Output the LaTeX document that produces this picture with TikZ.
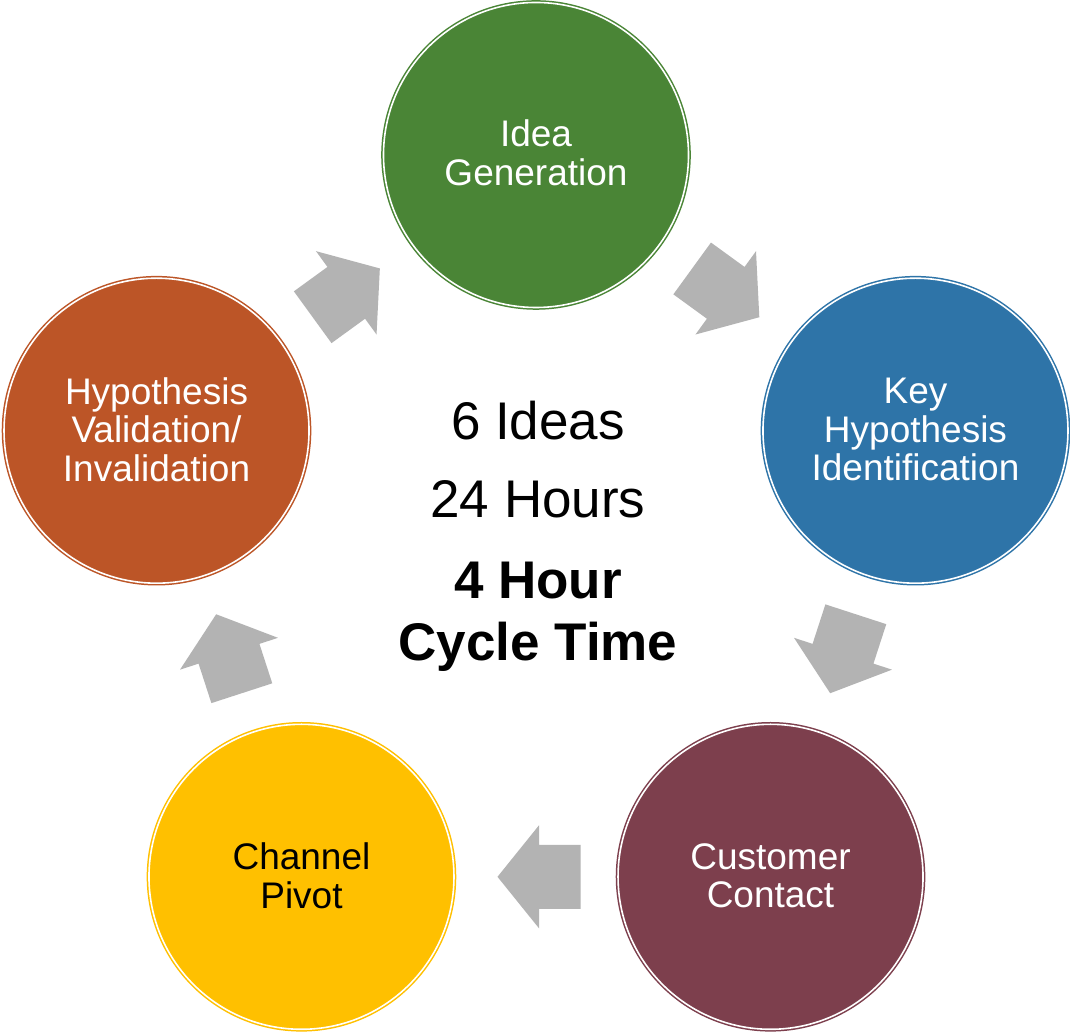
\documentclass[tikz,border=0pt]{standalone}
\usepackage{fontspec}
\setmainfont{Liberation Sans}
\usetikzlibrary{calc}

\definecolor{ideagreen}{HTML}{4A8536}
\definecolor{keyblue}{HTML}{2E74A8}
\definecolor{contactmaroon}{HTML}{7D3F4D}
\definecolor{pivotyellow}{HTML}{FFC000}
\definecolor{validorange}{HTML}{BC5527}
\definecolor{arrowgray}{HTML}{B3B3B3}

\tikzset{
  stage/.style={circle, inner sep=0pt, minimum size=305pt,
    draw=#1, fill=#1, line width=1.5pt, double=white, double distance=1.6pt,
    align=center, text=white, font=\fontsize{37}{38.5}\selectfont},
  stagetext/.style={inner sep=0pt, align=center, text=white,
    font=\fontsize{37}{38.5}\selectfont},
  centertext/.style={anchor=base, inner sep=0pt, font=\fontsize{53}{60}\selectfont},
  blockarrow/.pic={
    \fill[arrowgray] (-41.5,-32) -- (0,-32) -- (0,-51.5) -- (41.5,0)
      -- (0,51.5) -- (0,32) -- (-41.5,32) -- cycle;
  }
}

\begin{document}
\begin{tikzpicture}[x=1pt,y=1pt]
  \useasboundingbox (0,0) rectangle (1070,1033);
  \fill[white] (0,0) rectangle (1070,1033);

  % centre of the cycle
  \coordinate (C) at (536,479);

  % the five stages, clockwise from the top
  \node[stage=ideagreen]     (idea)     at ($(C)+(90:399)$)   {};
  \node[stage=keyblue]       (key)      at ($(C)+(18:399)$)   {};
  \node[stage=contactmaroon] (contact)  at ($(C)+(-54:399)$)  {};
  \node[stage=pivotyellow]   (pivot)    at ($(C)+(-126:399)$) {};
  \node[stage=validorange]   (validate) at ($(C)+(162:399)$)  {};

  % stage labels, set a little above the circle centres
  \node[stagetext] (ideaL)     at ([yshift=2pt]idea.center)     {Idea\\Generation};
  \node[stagetext] (keyL)      at ([yshift=1pt]key.center)      {Key\\Hypothesis\\Identification};
  \node[stagetext] (contactL)  at ([yshift=1pt]contact.center)  {Customer\\Contact};
  \node[stagetext, text=black] (pivotL) at ([yshift=1pt]pivot.center) {Channel\\Pivot};
  \node[stagetext] (validateL) at ([yshift=1pt]validate.center) {Hypothesis\\Validation/\\Invalidation};

  % block arrows between neighbouring stages
  \pic[rotate=-36]  at ($(idea)!0.5!(key)$)                {blockarrow};
  \pic[rotate=-108] at ($(key)!0.5!(contact)$)             {blockarrow};
  \pic[rotate=180]  at ($(contact)!0.5!(pivot)+(3,0)$)     {blockarrow};
  \pic[rotate=108]  at ($(pivot)!0.5!(validate)$)          {blockarrow};
  \pic[rotate=36]   at ($(validate)!0.5!(idea)$)           {blockarrow};

  % summary in the middle
  \node[centertext] (ideas)  at (538,593) {6 Ideas};
  \node[centertext] (hours)  at (538,515) {24 Hours};
  \node[centertext, font=\fontsize{53}{60}\selectfont\bfseries] (cycle1) at (538,434) {4 Hour};
  \node[centertext, font=\fontsize{53}{60}\selectfont\bfseries] (cycle2) at (538,372) {Cycle Time};
\end{tikzpicture}
\end{document}
